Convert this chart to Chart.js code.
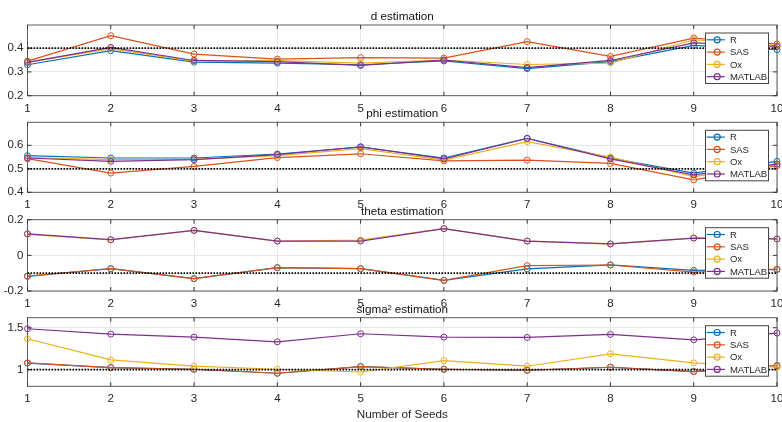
<!DOCTYPE html>
<html><head><meta charset="utf-8">
<script src="https://cdn.jsdelivr.net/npm/chart.js@4.4.0/dist/chart.umd.min.js"></script>
<style>
html,body{margin:0;padding:0;background:#fff;}
#wrap{position:relative;width:782px;height:422px;overflow:hidden;background:#fff;}
canvas{position:absolute;left:0;}
</style></head><body><div id="wrap"></div>
<script>
// ---------- data ----------
const seeds = ['1','2','3','4','5','6','7','8','9','10'];
const seriesNames = ['R','SAS','Ox','MATLAB'];

const d_R      = [0.330, 0.389, 0.341, 0.337, 0.330, 0.346, 0.314, 0.343, 0.411, 0.393];
const d_SAS    = [0.345, 0.452, 0.375, 0.354, 0.360, 0.358, 0.427, 0.365, 0.442, 0.417];
const d_Ox     = [0.340, 0.398, 0.345, 0.347, 0.337, 0.350, 0.331, 0.337, 0.435, 0.410];
const d_MATLAB = [0.340, 0.403, 0.348, 0.343, 0.327, 0.350, 0.318, 0.348, 0.422, 0.407];

const phi_R      = [0.556, 0.546, 0.546, 0.563, 0.592, 0.546, 0.630, 0.546, 0.482, 0.532];
const phi_SAS    = [0.543, 0.482, 0.510, 0.548, 0.564, 0.534, 0.537, 0.523, 0.453, 0.513];
const phi_Ox     = [0.548, 0.539, 0.540, 0.556, 0.586, 0.537, 0.616, 0.550, 0.467, 0.518];
const phi_MATLAB = [0.546, 0.532, 0.539, 0.560, 0.594, 0.542, 0.629, 0.542, 0.474, 0.520];

const theta_R      = [-0.118, -0.075, -0.131, -0.069, -0.075, -0.140, -0.076, -0.054, -0.084, -0.080];
const theta_SAS    = [-0.116, -0.075, -0.131, -0.069, -0.075, -0.140, -0.058, -0.054, -0.094, -0.077];
const theta_Ox     = [0.118, 0.086, 0.140, 0.080, 0.086, 0.150, 0.080, 0.064, 0.097, 0.092];
const theta_MATLAB = [0.121, 0.088, 0.140, 0.080, 0.080, 0.150, 0.080, 0.064, 0.097, 0.092];

const sigma_R      = [1.078, 1.024, 1.004, 0.956, 1.036, 1.004, 0.992, 1.028, 0.976, 1.048];
const sigma_SAS    = [1.079, 1.024, 1.004, 0.956, 1.036, 1.004, 0.992, 1.028, 0.976, 1.048];
const sigma_Ox     = [1.368, 1.115, 1.040, 1.004, 0.971, 1.108, 1.040, 1.188, 1.080, 1.028];
const sigma_MATLAB = [1.488, 1.424, 1.388, 1.332, 1.428, 1.388, 1.384, 1.420, 1.356, 1.436];

const trueValues = [0.4, 0.5, -0.1, 1];
const panelTitles = ['d estimation', 'phi estimation', 'theta estimation', 'sigma\u00B2 estimation'];
const xAxisLabel = 'Number of Seeds';
const yMinVals = [0.2, 0.4, -0.2, 0.8];
const yMaxVals = [0.497, 0.698, 0.2, 1.62];
const yTickVals = [[0.2, 0.3, 0.4], [0.4, 0.5, 0.6], [-0.2, 0, 0.2], [1, 1.5]];

const panelSeries = [
  [d_R, d_SAS, d_Ox, d_MATLAB],
  [phi_R, phi_SAS, phi_Ox, phi_MATLAB],
  [theta_R, theta_SAS, theta_Ox, theta_MATLAB],
  [sigma_R, sigma_SAS, sigma_Ox, sigma_MATLAB]
];

// ---------- styles / layout ----------
const colors = ['#0072BD', '#D95319', '#EDB120', '#7E2F8E'];
const panelTop = [25, 122.3, 219.7, 317.7];
const panelBottom = [95.7, 192.3, 291, 386.3];
const plotLeft = 27.5, plotRightPad = 3.5;
const W = 782;

Chart.defaults.font.family = '"Liberation Sans", Arial, Helvetica, sans-serif';
Chart.defaults.font.size = 11.5;
Chart.defaults.color = '#262626';

const decoPlugin = {
  id: 'deco',
  beforeDatasetsDraw(chart) {
    const ctx = chart.ctx, a = chart.chartArea;
    ctx.save();
    ctx.strokeStyle = '#5a5a5a';
    ctx.lineWidth = 1;
    ctx.strokeRect(a.left, a.top, a.right - a.left, a.bottom - a.top);
    // inward tick marks
    ctx.strokeStyle = '#333';
    const xs = chart.scales.x, ys = chart.scales.y;
    const tl = 4;
    ctx.beginPath();
    xs.ticks.forEach((t, i) => {
      const px = xs.getPixelForTick(i);
      ctx.moveTo(px, a.top); ctx.lineTo(px, a.top + tl);
      ctx.moveTo(px, a.bottom); ctx.lineTo(px, a.bottom - tl);
    });
    ys.ticks.forEach((t) => {
      const py = ys.getPixelForValue(t.value);
      ctx.moveTo(a.left, py); ctx.lineTo(a.left + tl, py);
      ctx.moveTo(a.right, py); ctx.lineTo(a.right - tl, py);
    });
    ctx.stroke();
    ctx.restore();
  },
  afterDraw(chart) {
    const ctx = chart.ctx, a = chart.chartArea;
    const o = chart.options.plugins.deco;
    ctx.save();
    // title
    ctx.fillStyle = '#111';
    ctx.font = '11.7px "Liberation Sans", Arial, sans-serif';
    ctx.textAlign = 'center';
    ctx.textBaseline = 'alphabetic';
    ctx.fillText(o.title, (a.left + a.right) / 2, a.top - 5);
    if (o.xlabel) {
      ctx.fillStyle = '#262626';
      ctx.textBaseline = 'middle';
      ctx.fillText(o.xlabel, (a.left + a.right) / 2, a.bottom + 28);
    }
    // legend
    const w = 63, h = 50.5;
    const x0 = a.right - 8.5 - w, y0 = a.top + 8;
    ctx.fillStyle = '#fff';
    ctx.fillRect(x0, y0, w, h);
    ctx.strokeStyle = '#444';
    ctx.lineWidth = 1;
    ctx.strokeRect(x0, y0, w, h);
    const items = chart.data.datasets.filter(ds => ds.inLegend);
    ctx.font = '9.5px "Liberation Sans", Arial, sans-serif';
    ctx.textAlign = 'left';
    ctx.textBaseline = 'middle';
    items.forEach((ds, k) => {
      const yy = y0 + 6.8 + k * 12.3;
      ctx.strokeStyle = ds.borderColor;
      ctx.lineWidth = 1.2;
      ctx.beginPath();
      ctx.moveTo(x0 + 1.2, yy); ctx.lineTo(x0 + 19.4, yy);
      ctx.stroke();
      ctx.beginPath();
      ctx.arc(x0 + 11.7, yy, 3, 0, Math.PI * 2);
      ctx.stroke();
      ctx.fillStyle = '#262626';
      ctx.fillText(ds.label, x0 + 24.4, yy + 0.5);
    });
    ctx.restore();
  }
};

const wrap = document.getElementById('wrap');
for (let p = 0; p < 4; p++) {
  const cTop = Math.floor(panelTop[p]) - 25;
  const cH = (p === 3) ? (422 - cTop) : 120;
  const cv = document.createElement('canvas');
  cv.width = W; cv.height = cH;
  cv.style.top = cTop + 'px';
  cv.style.width = W + 'px'; cv.style.height = cH + 'px';
  wrap.appendChild(cv);
  const padTop = panelTop[p] - cTop;
  const xAxisH = cH - (panelBottom[p] - cTop);

  const datasets = seriesNames.map((name, s) => ({
    label: name,
    data: panelSeries[p][s],
    borderColor: colors[s],
    backgroundColor: colors[s],
    borderWidth: 1.2,
    pointRadius: 3,
    pointBorderWidth: 1,
    pointBackgroundColor: 'rgba(0,0,0,0)',
    pointBorderColor: colors[s],
    tension: 0,
    clip: false,
    order: 4 - s + 1,
    inLegend: true
  }));
  datasets.push({
    label: 'true',
    data: seeds.map(() => trueValues[p]),
    borderColor: '#000',
    borderWidth: 1.8,
    borderDash: [1.6, 1.4],
    pointRadius: 0,
    order: 0,
    inLegend: false
  });

  new Chart(cv, {
    type: 'line',
    data: { labels: seeds, datasets },
    plugins: [decoPlugin],
    options: {
      responsive: false,
      animation: false,
      events: [],
      layout: { padding: { top: padTop, left: 0, right: plotRightPad, bottom: 0 } },
      plugins: {
        legend: { display: false },
        tooltip: { enabled: false },
        title: { display: false },
        deco: { title: panelTitles[p], xlabel: p === 3 ? xAxisLabel : null }
      },
      scales: {
        x: {
          type: 'category',
          offset: false,
          grid: { color: '#e6e6e6', drawTicks: false, lineWidth: 1 },
          border: { display: false },
          ticks: { padding: 6, maxRotation: 0, autoSkip: false, color: '#262626' },
          afterFit(s) { s.height = xAxisH; s.paddingLeft = 0; s.paddingRight = 0; }
        },
        y: {
          min: yMinVals[p], max: yMaxVals[p],
          grid: { color: '#e6e6e6', drawTicks: false, lineWidth: 1 },
          border: { display: false },
          ticks: { padding: 4, color: '#262626', callback: (v) => String(v) },
          afterBuildTicks(s) { s.ticks = yTickVals[p].map(v => ({ value: v })); },
          afterFit(s) { s.width = plotLeft; s.paddingTop = 0; s.paddingBottom = 0; }
        }
      }
    }
  });
}
</script></body></html>
